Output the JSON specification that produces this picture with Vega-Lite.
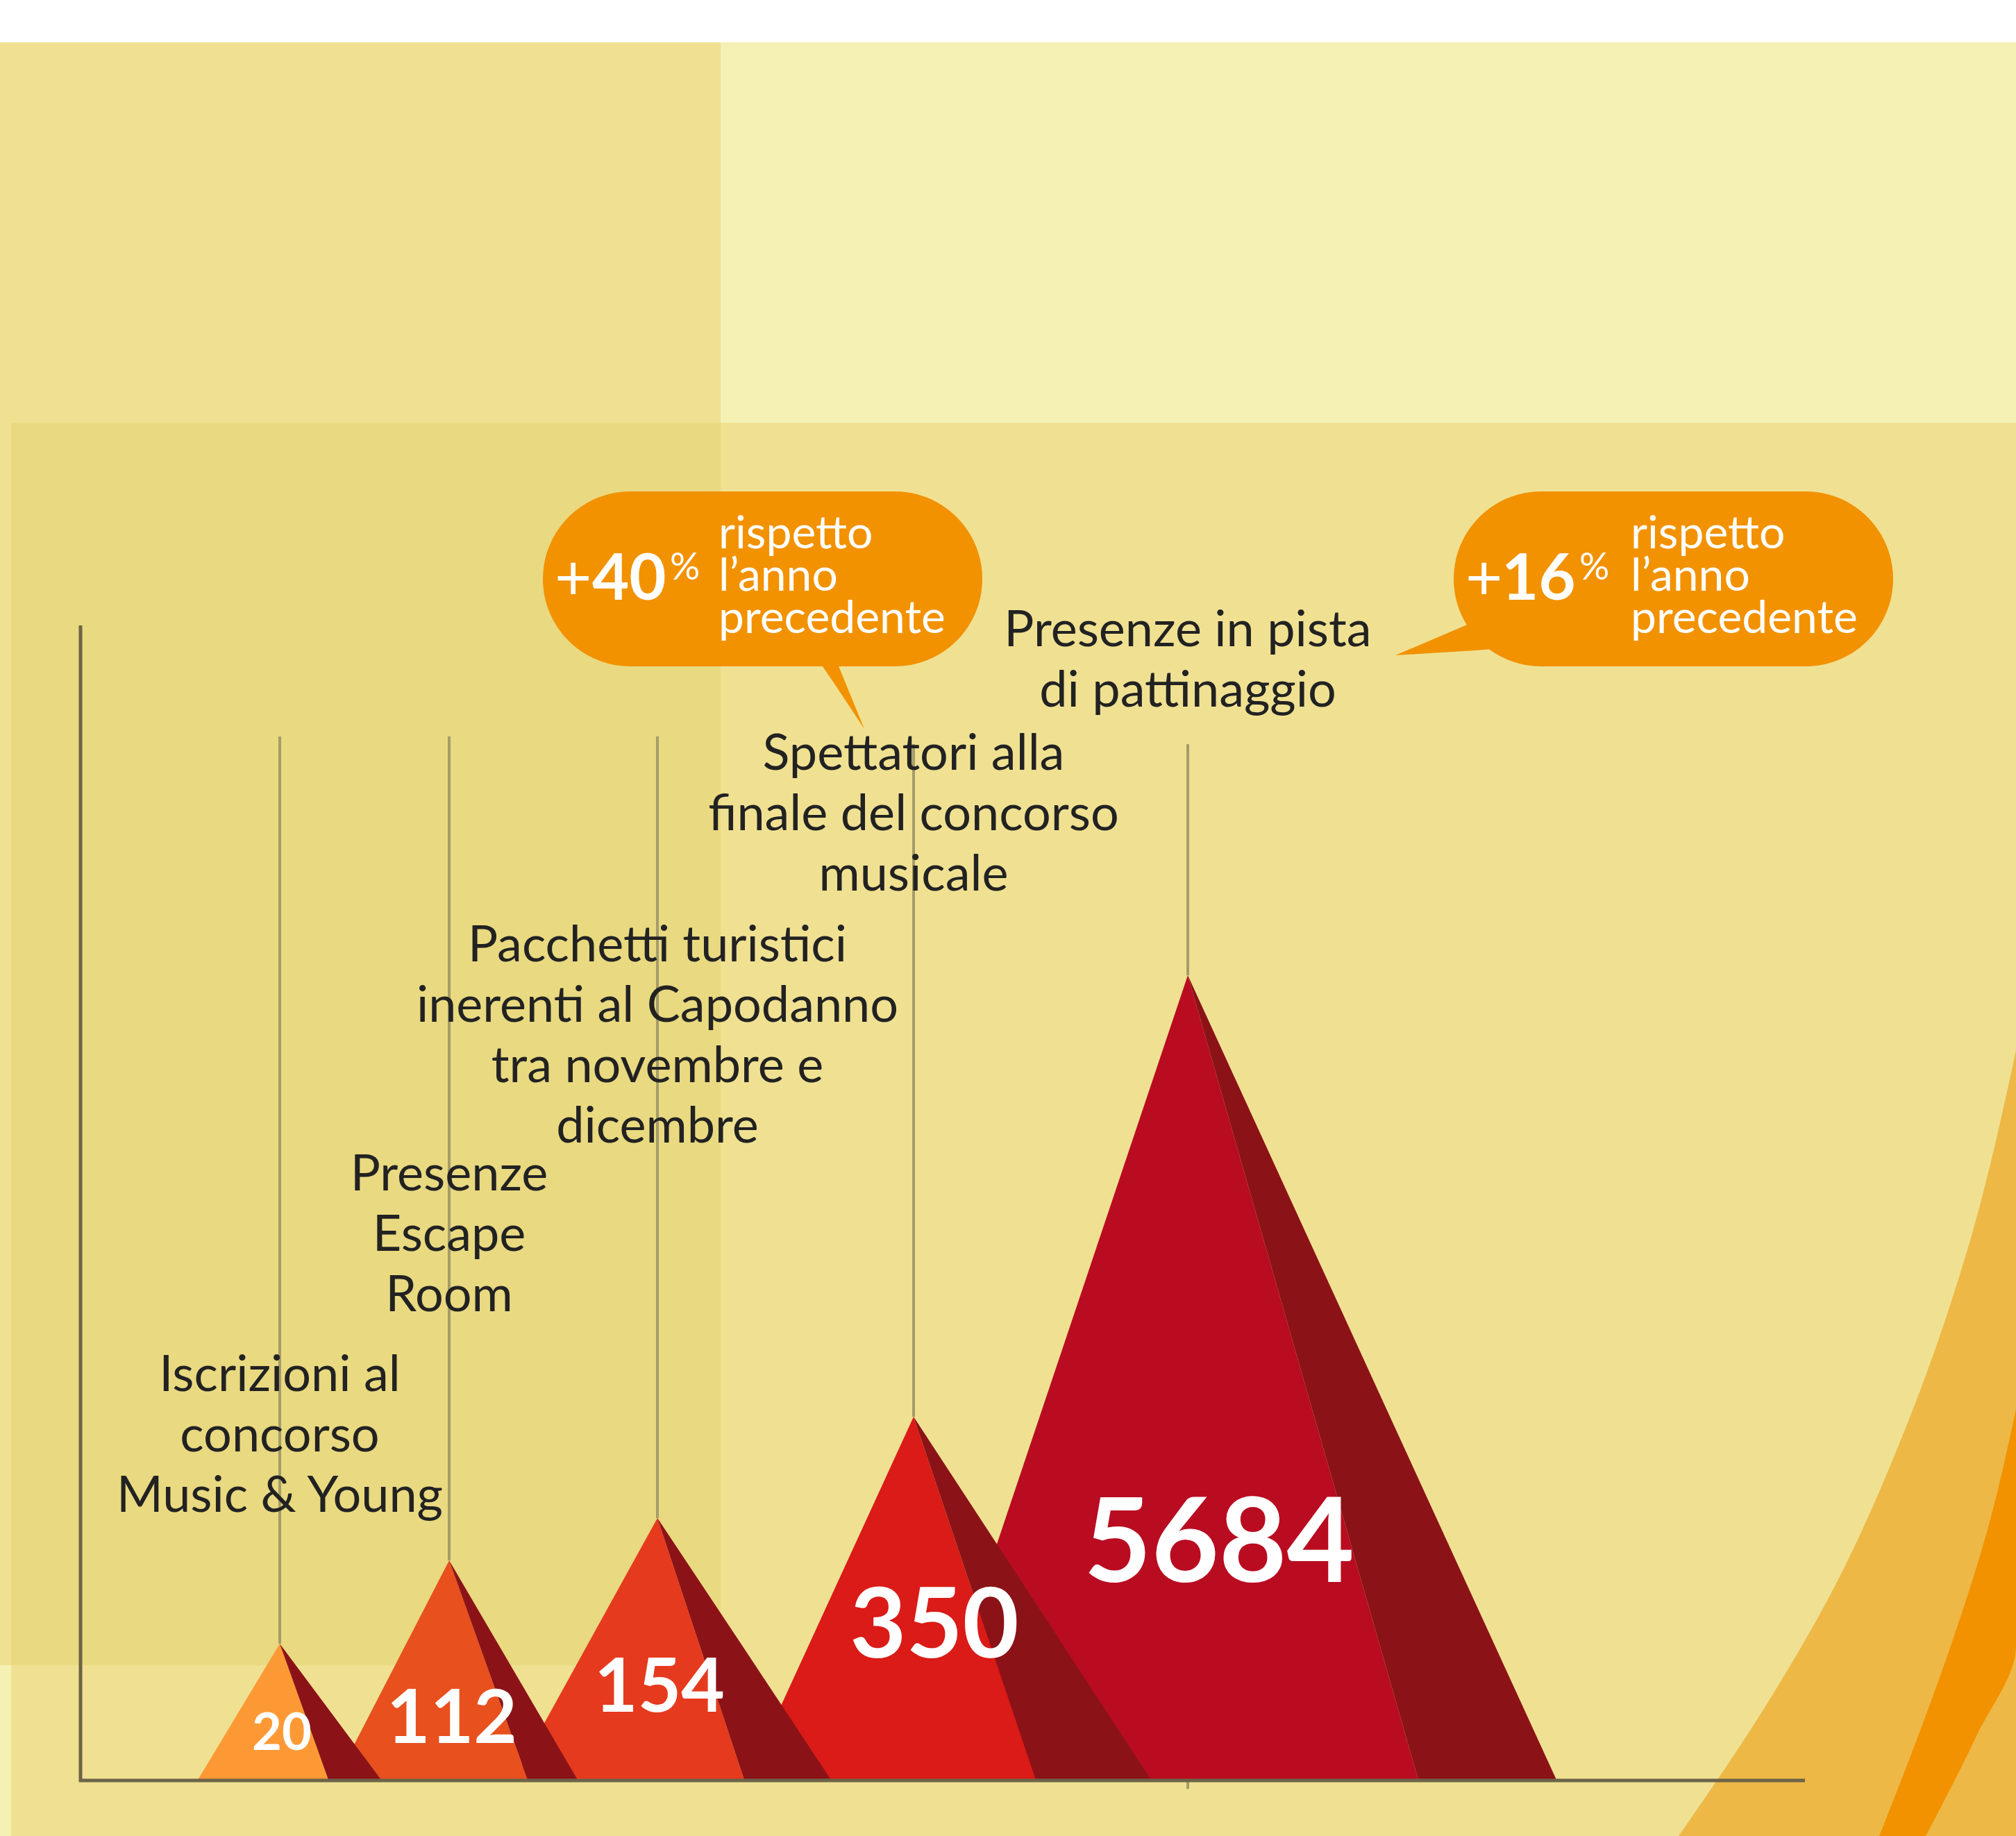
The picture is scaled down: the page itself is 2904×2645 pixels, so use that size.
{
  "$schema": "https://vega.github.io/schema/vega-lite/v6.json",
  "width": 2904,
  "height": 2645,
  "autosize": {"type": "fit", "contains": "padding"},
  "padding": 0,
  "background": "#ffffff",
  "config": {"view": {"stroke": null}, "text": {"font": "Lato"}},
  "resolve": {"scale": {"color": "independent", "size": "independent"}},
  "datasets": {
    "bg": [
      {"part": "base", "x0": 0, "x1": 2904, "y0": 61, "y1": 2645},
      {"part": "left", "x0": 0, "x1": 1038, "y0": 61, "y1": 2399},
      {"part": "band", "x0": 16, "x1": 2904, "y0": 609, "y1": 2645},
      {"part": "overlap", "x0": 16, "x1": 1038, "y0": 609, "y1": 2399}
    ],
    "arcs": [
      {"band": "outer", "y": 1513, "xa": 2904, "xb": 2904},
      {"band": "outer", "y": 1804, "xa": 2833, "xb": 2904},
      {"band": "outer", "y": 2057, "xa": 2745, "xb": 2904},
      {"band": "outer", "y": 2287, "xa": 2642, "xb": 2904},
      {"band": "outer", "y": 2463, "xa": 2540, "xb": 2904},
      {"band": "outer", "y": 2645, "xa": 2418, "xb": 2904},
      {"band": "inner", "y": 2030, "xa": 2904, "xb": 2904},
      {"band": "inner", "y": 2200, "xa": 2864, "xb": 2904},
      {"band": "inner", "y": 2371, "xa": 2810, "xb": 2904},
      {"band": "inner", "y": 2501, "xa": 2763, "xb": 2847},
      {"band": "inner", "y": 2645, "xa": 2707, "xb": 2774}
    ],
    "leaders": [
      {"x": 403, "y0": 1061, "y1": 2368},
      {"x": 647, "y0": 1061, "y1": 2248},
      {"x": 947, "y0": 1061, "y1": 2187},
      {"x": 1316, "y0": 1072, "y1": 2041},
      {"x": 1711, "y0": 1072, "y1": 1405},
      {"x": 1711, "y0": 2564, "y1": 2577}
    ],
    "axes": [
      {"x0": 116, "x1": 116, "y0": 901, "y1": 2567},
      {"x0": 114, "x1": 2600, "y0": 2565, "y1": 2565}
    ],
    "mountains": [
      {"m": "5684", "part": "5684 front", "x": 1322, "top": 2564, "bot": 2564},
      {"m": "5684", "part": "5684 front", "x": 1711, "top": 1405, "bot": 2564},
      {"m": "5684", "part": "5684 front", "x": 2043, "top": 2564, "bot": 2564},
      {"m": "5684", "part": "shadow", "x": 1711, "top": 1405, "bot": 1405},
      {"m": "5684", "part": "shadow", "x": 2043, "top": 2130, "bot": 2564},
      {"m": "5684", "part": "shadow", "x": 2242, "top": 2564, "bot": 2564},
      {"m": "350", "part": "350 front", "x": 1076, "top": 2564, "bot": 2564},
      {"m": "350", "part": "350 front", "x": 1316, "top": 2041, "bot": 2564},
      {"m": "350", "part": "350 front", "x": 1492, "top": 2564, "bot": 2564},
      {"m": "350", "part": "shadow", "x": 1316, "top": 2041, "bot": 2041},
      {"m": "350", "part": "shadow", "x": 1492, "top": 2310, "bot": 2564},
      {"m": "350", "part": "shadow", "x": 1658, "top": 2564, "bot": 2564},
      {"m": "154", "part": "154 front", "x": 739, "top": 2564, "bot": 2564},
      {"m": "154", "part": "154 front", "x": 947, "top": 2187, "bot": 2564},
      {"m": "154", "part": "154 front", "x": 1072, "top": 2564, "bot": 2564},
      {"m": "154", "part": "shadow", "x": 947, "top": 2187, "bot": 2187},
      {"m": "154", "part": "shadow", "x": 1072, "top": 2375, "bot": 2564},
      {"m": "154", "part": "shadow", "x": 1197, "top": 2564, "bot": 2564},
      {"m": "112", "part": "112 front", "x": 484, "top": 2564, "bot": 2564},
      {"m": "112", "part": "112 front", "x": 647, "top": 2248, "bot": 2564},
      {"m": "112", "part": "112 front", "x": 760, "top": 2564, "bot": 2564},
      {"m": "112", "part": "shadow", "x": 647, "top": 2248, "bot": 2248},
      {"m": "112", "part": "shadow", "x": 760, "top": 2441, "bot": 2564},
      {"m": "112", "part": "shadow", "x": 832, "top": 2564, "bot": 2564},
      {"m": "20", "part": "20 front", "x": 285, "top": 2564, "bot": 2564},
      {"m": "20", "part": "20 front", "x": 403, "top": 2368, "bot": 2564},
      {"m": "20", "part": "20 front", "x": 473, "top": 2564, "bot": 2564},
      {"m": "20", "part": "shadow", "x": 403, "top": 2368, "bot": 2368},
      {"m": "20", "part": "shadow", "x": 473, "top": 2462, "bot": 2564},
      {"m": "20", "part": "shadow", "x": 549, "top": 2564, "bot": 2564}
    ],
    "labels": [
      {"label": "Iscrizioni al\nconcorso\nMusic & Young", "x": 403, "y": 2004},
      {"label": "Presenze\nEscape\nRoom", "x": 647, "y": 1715},
      {"label": "Pacchetti turistici\ninerenti al Capodanno\ntra novembre e\ndicembre", "x": 947, "y": 1385},
      {"label": "Spettatori alla\nfinale del concorso\nmusicale", "x": 1316, "y": 1109},
      {"label": "Presenze in pista\ndi pattinaggio", "x": 1711, "y": 931}
    ],
    "values": [
      {"value": "20", "x": 406, "y": 2521},
      {"value": "112", "x": 651, "y": 2511},
      {"value": "154", "x": 950, "y": 2466},
      {"value": "350", "x": 1346, "y": 2388},
      {"value": "5684", "x": 1756, "y": 2279}
    ],
    "bubbles": [
      {"id": "a", "x0": 782, "x1": 1415, "y0": 708, "y1": 960},
      {"id": "b", "x0": 2094, "x1": 2727, "y0": 708, "y1": 960}
    ],
    "tails": [
      {"t": "a", "x": 1178, "top": 950, "bot": 950},
      {"t": "a", "x": 1204, "top": 950, "bot": 988},
      {"t": "a", "x": 1245, "top": 1050, "bot": 1050},
      {"t": "b", "x": 2010, "top": 944, "bot": 944},
      {"t": "b", "x": 2125, "top": 895, "bot": 937},
      {"t": "b", "x": 2150, "top": 935, "bot": 935}
    ],
    "bubbleText": [
      {"kind": "plus", "text": "+", "x": 799, "y": 864},
      {"kind": "num", "text": "40", "x": 853, "y": 864},
      {"kind": "pct", "text": "%", "x": 965, "y": 835},
      {"kind": "note", "text": "rispetto\nl’anno\nprecedente", "x": 1035, "y": 790},
      {"kind": "plus", "text": "+", "x": 2111, "y": 864},
      {"kind": "num", "text": "16", "x": 2163, "y": 864},
      {"kind": "pct", "text": "%", "x": 2275, "y": 835},
      {"kind": "note", "text": "rispetto\nl’anno\nprecedente", "x": 2349, "y": 790}
    ]
  },
  "layer": [
    {
      "data": {"name": "bg"},
      "mark": {"type": "rect"},
      "encoding": {
        "x": {"field": "x0", "type": "quantitative", "scale": {"domain": [0, 2904], "nice": false, "zero": false}, "axis": null},
        "x2": {"field": "x1"},
        "y": {"field": "y0", "type": "quantitative", "scale": {"domain": [0, 2645], "reverse": true, "nice": false, "zero": false}, "axis": null},
        "y2": {"field": "y1"},
        "color": {"field": "part", "type": "nominal", "legend": null,
          "scale": {"domain": ["base", "left", "band", "overlap"], "range": ["#F5F1B5", "#F0E192", "#F0E192", "#E9D980"]}}
      }
    },
    {
      "data": {"name": "arcs"},
      "transform": [{"filter": "datum.band === 'outer'"}],
      "mark": {"type": "area", "orient": "horizontal", "interpolate": "monotone", "color": "#EDB846"},
      "encoding": {
        "y": {"field": "y", "type": "quantitative", "scale": {"domain": [0, 2645], "reverse": true, "nice": false, "zero": false}, "axis": null},
        "x": {"field": "xa", "type": "quantitative", "scale": {"domain": [0, 2904], "nice": false, "zero": false}, "axis": null, "stack": null},
        "x2": {"field": "xb"}
      }
    },
    {
      "data": {"name": "arcs"},
      "transform": [{"filter": "datum.band === 'inner'"}],
      "mark": {"type": "area", "orient": "horizontal", "interpolate": "monotone", "color": "#F29200"},
      "encoding": {
        "y": {"field": "y", "type": "quantitative", "scale": {"domain": [0, 2645], "reverse": true, "nice": false, "zero": false}, "axis": null},
        "x": {"field": "xa", "type": "quantitative", "scale": {"domain": [0, 2904], "nice": false, "zero": false}, "axis": null, "stack": null},
        "x2": {"field": "xb"}
      }
    },
    {
      "data": {"name": "leaders"},
      "mark": {"type": "rule", "color": "#A59C6A", "strokeWidth": 4},
      "encoding": {
        "x": {"field": "x", "type": "quantitative", "scale": {"domain": [0, 2904], "nice": false, "zero": false}, "axis": null},
        "y": {"field": "y0", "type": "quantitative", "scale": {"domain": [0, 2645], "reverse": true, "nice": false, "zero": false}, "axis": null},
        "y2": {"field": "y1"}
      }
    },
    {
      "data": {"name": "mountains"},
      "transform": [{"filter": "datum.m === '5684'"}],
      "mark": {"type": "area", "interpolate": "linear"},
      "encoding": {
        "x": {"field": "x", "type": "quantitative", "scale": {"domain": [0, 2904], "nice": false, "zero": false}, "axis": null},
        "y": {"field": "top", "type": "quantitative", "scale": {"domain": [0, 2645], "reverse": true, "nice": false, "zero": false}, "axis": null, "stack": null},
        "y2": {"field": "bot"},
        "color": {"field": "part", "type": "nominal", "legend": null,
          "scale": {"domain": ["5684 front", "350 front", "154 front", "112 front", "20 front", "shadow"], "range": ["#B90C21", "#DA1B17", "#E63A1E", "#E8501E", "#FD9935", "#8B1318"]}}
      }
    },
    {
      "data": {"name": "mountains"},
      "transform": [{"filter": "datum.m === '350'"}],
      "mark": {"type": "area", "interpolate": "linear"},
      "encoding": {
        "x": {"field": "x", "type": "quantitative", "scale": {"domain": [0, 2904], "nice": false, "zero": false}, "axis": null},
        "y": {"field": "top", "type": "quantitative", "scale": {"domain": [0, 2645], "reverse": true, "nice": false, "zero": false}, "axis": null, "stack": null},
        "y2": {"field": "bot"},
        "color": {"field": "part", "type": "nominal", "legend": null,
          "scale": {"domain": ["5684 front", "350 front", "154 front", "112 front", "20 front", "shadow"], "range": ["#B90C21", "#DA1B17", "#E63A1E", "#E8501E", "#FD9935", "#8B1318"]}}
      }
    },
    {
      "data": {"name": "mountains"},
      "transform": [{"filter": "datum.m === '154'"}],
      "mark": {"type": "area", "interpolate": "linear"},
      "encoding": {
        "x": {"field": "x", "type": "quantitative", "scale": {"domain": [0, 2904], "nice": false, "zero": false}, "axis": null},
        "y": {"field": "top", "type": "quantitative", "scale": {"domain": [0, 2645], "reverse": true, "nice": false, "zero": false}, "axis": null, "stack": null},
        "y2": {"field": "bot"},
        "color": {"field": "part", "type": "nominal", "legend": null,
          "scale": {"domain": ["5684 front", "350 front", "154 front", "112 front", "20 front", "shadow"], "range": ["#B90C21", "#DA1B17", "#E63A1E", "#E8501E", "#FD9935", "#8B1318"]}}
      }
    },
    {
      "data": {"name": "mountains"},
      "transform": [{"filter": "datum.m === '112'"}],
      "mark": {"type": "area", "interpolate": "linear"},
      "encoding": {
        "x": {"field": "x", "type": "quantitative", "scale": {"domain": [0, 2904], "nice": false, "zero": false}, "axis": null},
        "y": {"field": "top", "type": "quantitative", "scale": {"domain": [0, 2645], "reverse": true, "nice": false, "zero": false}, "axis": null, "stack": null},
        "y2": {"field": "bot"},
        "color": {"field": "part", "type": "nominal", "legend": null,
          "scale": {"domain": ["5684 front", "350 front", "154 front", "112 front", "20 front", "shadow"], "range": ["#B90C21", "#DA1B17", "#E63A1E", "#E8501E", "#FD9935", "#8B1318"]}}
      }
    },
    {
      "data": {"name": "mountains"},
      "transform": [{"filter": "datum.m === '20'"}],
      "mark": {"type": "area", "interpolate": "linear"},
      "encoding": {
        "x": {"field": "x", "type": "quantitative", "scale": {"domain": [0, 2904], "nice": false, "zero": false}, "axis": null},
        "y": {"field": "top", "type": "quantitative", "scale": {"domain": [0, 2645], "reverse": true, "nice": false, "zero": false}, "axis": null, "stack": null},
        "y2": {"field": "bot"},
        "color": {"field": "part", "type": "nominal", "legend": null,
          "scale": {"domain": ["5684 front", "350 front", "154 front", "112 front", "20 front", "shadow"], "range": ["#B90C21", "#DA1B17", "#E63A1E", "#E8501E", "#FD9935", "#8B1318"]}}
      }
    },
    {
      "data": {"name": "axes"},
      "mark": {"type": "rule", "color": "#6C6448", "strokeWidth": 5},
      "encoding": {
        "x": {"field": "x0", "type": "quantitative", "scale": {"domain": [0, 2904], "nice": false, "zero": false}, "axis": null},
        "x2": {"field": "x1"},
        "y": {"field": "y0", "type": "quantitative", "scale": {"domain": [0, 2645], "reverse": true, "nice": false, "zero": false}, "axis": null},
        "y2": {"field": "y1"}
      }
    },
    {
      "data": {"name": "labels"},
      "mark": {"type": "text", "font": "Lato", "fontSize": 72, "color": "#222222", "align": "center", "baseline": "alphabetic", "lineBreak": "\n", "lineHeight": 87},
      "encoding": {
        "x": {"field": "x", "type": "quantitative", "scale": {"domain": [0, 2904], "nice": false, "zero": false}, "axis": null},
        "y": {"field": "y", "type": "quantitative", "scale": {"domain": [0, 2645], "reverse": true, "nice": false, "zero": false}, "axis": null},
        "text": {"field": "label", "type": "nominal"}
      }
    },
    {
      "data": {"name": "values"},
      "mark": {"type": "text", "font": "Lato", "fontWeight": "bold", "color": "#ffffff", "align": "center", "baseline": "alphabetic"},
      "encoding": {
        "x": {"field": "x", "type": "quantitative", "scale": {"domain": [0, 2904], "nice": false, "zero": false}, "axis": null},
        "y": {"field": "y", "type": "quantitative", "scale": {"domain": [0, 2645], "reverse": true, "nice": false, "zero": false}, "axis": null},
        "text": {"field": "value", "type": "nominal"},
        "size": {"field": "value", "type": "nominal", "legend": null,
          "scale": {"type": "ordinal", "domain": ["20", "112", "154", "350", "5684"], "range": [74, 108, 108, 140, 168]}}
      }
    },
    {
      "data": {"name": "bubbles"},
      "mark": {"type": "rect", "color": "#F29200", "cornerRadius": 126},
      "encoding": {
        "x": {"field": "x0", "type": "quantitative", "scale": {"domain": [0, 2904], "nice": false, "zero": false}, "axis": null},
        "x2": {"field": "x1"},
        "y": {"field": "y0", "type": "quantitative", "scale": {"domain": [0, 2645], "reverse": true, "nice": false, "zero": false}, "axis": null},
        "y2": {"field": "y1"}
      }
    },
    {
      "data": {"name": "tails"},
      "mark": {"type": "area", "interpolate": "linear", "color": "#F29200"},
      "encoding": {
        "x": {"field": "x", "type": "quantitative", "scale": {"domain": [0, 2904], "nice": false, "zero": false}, "axis": null},
        "y": {"field": "top", "type": "quantitative", "scale": {"domain": [0, 2645], "reverse": true, "nice": false, "zero": false}, "axis": null, "stack": null},
        "y2": {"field": "bot"},
        "detail": {"field": "t", "type": "nominal"}
      }
    },
    {
      "data": {"name": "bubbleText"},
      "transform": [{"filter": "datum.kind !== 'num'"}],
      "mark": {"type": "text", "font": "Lato", "color": "#ffffff", "align": "left", "baseline": "alphabetic", "lineBreak": "\n", "lineHeight": 61},
      "encoding": {
        "x": {"field": "x", "type": "quantitative", "scale": {"domain": [0, 2904], "nice": false, "zero": false}, "axis": null},
        "y": {"field": "y", "type": "quantitative", "scale": {"domain": [0, 2645], "reverse": true, "nice": false, "zero": false}, "axis": null},
        "text": {"field": "text", "type": "nominal"},
        "size": {"field": "kind", "type": "nominal", "legend": null,
          "scale": {"type": "ordinal", "domain": ["plus", "pct", "note"], "range": [92, 54, 66]}}
      }
    },
    {
      "data": {"name": "bubbleText"},
      "transform": [{"filter": "datum.kind === 'num'"}],
      "mark": {"type": "text", "font": "Lato", "fontWeight": "bold", "fontSize": 92, "color": "#ffffff", "align": "left", "baseline": "alphabetic"},
      "encoding": {
        "x": {"field": "x", "type": "quantitative", "scale": {"domain": [0, 2904], "nice": false, "zero": false}, "axis": null},
        "y": {"field": "y", "type": "quantitative", "scale": {"domain": [0, 2645], "reverse": true, "nice": false, "zero": false}, "axis": null},
        "text": {"field": "text", "type": "nominal"}
      }
    }
  ]
}
